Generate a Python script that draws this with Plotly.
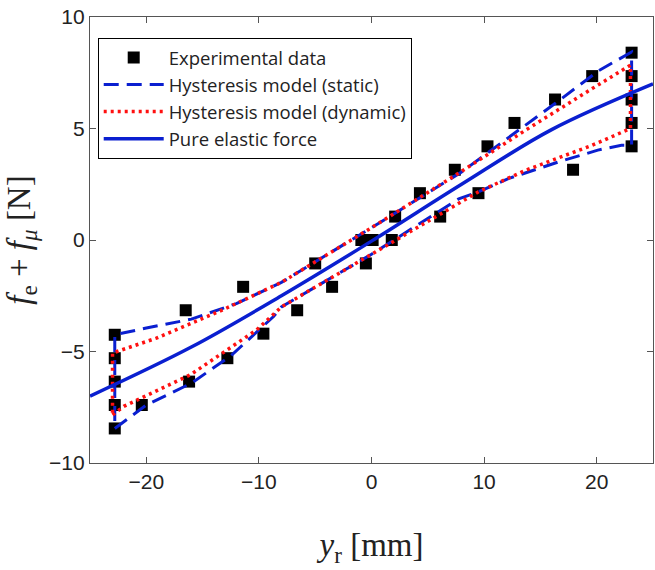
import plotly.graph_objects as go

# Experimental data
exp_x = [-22.8, -22.8, -22.8, -22.8, -22.8, -20.4, -16.5, -16.2, -12.8, -11.4, -9.6,
         -6.6, -5.0, -3.5, -0.9, 0.1, -0.5, 1.8, 2.1, 4.3, 6.1, 7.4, 9.5, 10.3,
         12.7, 16.3, 17.9, 19.6, 23.1, 23.1, 23.1, 23.1, 23.1]
exp_y = [-8.45, -7.4, -6.35, -5.3, -4.25, -7.4, -3.15, -6.35, -5.3, -2.1, -4.2,
         -3.15, -1.05, -2.1, 0.0, 0.0, -1.05, 0.0, 1.05, 2.1, 1.05, 3.15, 2.1, 4.2,
         5.25, 6.3, 3.15, 7.35, 8.4, 7.35, 6.3, 5.25, 4.2]

# Hysteresis model (static): lower branch left->right, then upper branch right->left
static_x = [-22.8, -20.0, -16.0, -12.5, -8.7, -8.0, 0.0, 7.75, 9.5, 12.2, 16.6, 20.1, 22.2, 23.1,
            23.1, 20.2, 16.3, 11.3, 8.0, 0.0, -8.0, -12.0, -16.0, -20.0, -22.8, -22.8]
static_y = [-8.45, -7.4, -6.42, -5.2, -3.43, -3.0, -0.64, 1.85, 2.16, 2.76, 3.5, 4.03, 4.25, 4.25,
            8.43, 7.6, 6.12, 4.25, 3.05, 0.55, -1.9, -2.85, -3.55, -3.95, -4.25, -8.45]

# Hysteresis model (dynamic)
dyn_x = [-23.0, -22.0, -16.1, -10.2, -8.0, 0.0, 9.5, 13.7, 19.6, 23.0,
         23.0, 19.6, 13.7, 7.75, 0.0, -8.0, -13.2, -19.1, -23.0, -23.0]
dyn_y = [-7.84, -7.46, -6.05, -4.03, -3.0, -0.64, 2.16, 3.13, 4.25, 5.0,
         7.84, 6.79, 4.93, 3.0, 0.55, -1.9, -3.13, -4.4, -5.07, -7.84]

# Pure elastic force
el_x = [-25, -16, -8, 0, 8, 16, 25]
el_y = [-7.0, -4.8, -2.5, -0.05, 2.5, 4.95, 7.0]

fig = go.Figure()
fig.add_trace(go.Scatter(x=exp_x, y=exp_y, mode="markers", name="Experimental data",
                         marker=dict(symbol="square", size=12, color="black")))
fig.add_trace(go.Scatter(x=static_x, y=static_y, mode="lines", name="Hysteresis model (static)",
                         line=dict(color="#0a1fd0", width=3, dash="15px,8px")))
fig.add_trace(go.Scatter(x=dyn_x, y=dyn_y, mode="lines", name="Hysteresis model (dynamic)",
                         line=dict(color="#ff1010", width=3.5, dash="3px,4px")))
fig.add_trace(go.Scatter(x=el_x, y=el_y, mode="lines", name="Pure elastic force",
                         line=dict(color="#0a1fd0", width=3.5, shape="spline")))

axis_common = dict(showline=True, linecolor="#555", linewidth=1.2, mirror="allticks",
                   ticks="inside", ticklen=6, tickcolor="#555", showgrid=False, zeroline=False,
                   tickfont=dict(family="Liberation Sans, Arial", size=21, color="#222"))

fig.update_layout(
    width=655, height=570,
    margin=dict(l=90, r=2, t=17, b=107),
    plot_bgcolor="white", paper_bgcolor="white",
    showlegend=True,
    legend=dict(x=0.0137, y=0.953, xanchor="left", yanchor="top",
                bordercolor="black", borderwidth=1, bgcolor="white",
                font=dict(family="Open Sans", size=18.5, color="#222"),
                itemwidth=60, tracegroupgap=0),
    xaxis=dict(range=[-25, 25], tickvals=[-20, -10, 0, 10, 20],
               title=dict(text="<i>y</i><sub>r</sub> [mm]", standoff=40,
                          font=dict(family="Liberation Serif, Times New Roman", size=33, color="#222")),
               **axis_common),
    yaxis=dict(range=[-10, 10], tickvals=[-10, -5, 0, 5, 10],
               title=dict(text="<i>f</i><sub>e</sub> + <i>f</i><sub><i>μ</i></sub> [N]", standoff=8,
                          font=dict(family="Liberation Serif, Times New Roman", size=33, color="#222")),
               **axis_common),
)

fig.write_html("out.html")
